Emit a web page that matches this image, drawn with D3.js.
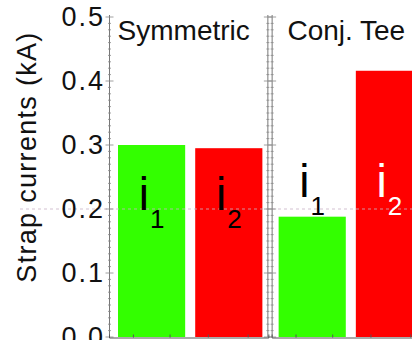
<!DOCTYPE html>
<html>
<head>
<meta charset="utf-8">
<script src="https://cdn.jsdelivr.net/npm/d3@7"></script>
<style>
  body { margin: 0; background: #fff; }
  text { font-family: "Liberation Sans", Arial, sans-serif; }
</style>
</head>
<body>
<div id="chart"></div>
<script>
// data
const panels = ["Symmetric", "Conj. Tee"];
const straps = ["i1", "i2"];
const symmetricValues = [0.300, 0.295];
const conjTeeValues = [0.188, 0.416];
const yTicks = [0.0, 0.1, 0.2, 0.3, 0.4, 0.5];
const labelAt = [0.198, 0.218]; // baseline of the i1/i2 labels in each panel
const labelColors = [["#000", "#000"], ["#000", "#fff"]];

const width = 412;
const height = 340;

const svg = d3.select("#chart")
  .append("svg")
  .attr("width", width)
  .attr("height", height);

//y scale shared by both panels
const y = d3.scaleLinear().domain([0, 0.5]).range([337, 17]);

//panels side by side, the second one runs off the right edge
const xPanel = d3.scaleBand().domain(panels).range([109, 431]).paddingInner(0.02);
const xStrap = d3.scaleBand().domain(straps).range([9, xPanel.bandwidth() - 6]).paddingInner(0.13);

const colors = d3.scaleOrdinal().domain(straps).range(["#33ff00", "#ff0000"]);

const rows = [];
panels.forEach((p, pi) => {
  const vals = pi === 0 ? symmetricValues : conjTeeValues;
  straps.forEach((s, si) => rows.push({ panel: p, pi: pi, strap: s, si: si, value: vals[si] }));
});

//bars
svg.selectAll("rect.bar")
  .data(rows)
  .enter()
  .append("rect")
  .attr("class", "bar")
  .attr("x", d => xPanel(d.panel) + xStrap(d.strap) - (d.pi === 1 ? 2 : 0))
  .attr("y", d => y(d.value))
  .attr("width", xStrap.bandwidth())
  .attr("height", d => y(0) - y(d.value))
  .attr("fill", d => colors(d.strap));

//faint dotted line at 0.2
svg.append("line")
  .attr("x1", 20)
  .attr("x2", width)
  .attr("y1", y(0.2))
  .attr("y2", y(0.2))
  .attr("stroke", "#c9b3c6")
  .attr("stroke-width", 2)
  .attr("stroke-dasharray", "3,3")
  .attr("opacity", 0.4);

//frame lines with small ticks on both sides
const minor = d3.range(0, 0.501, 0.01);
function frameLine(x) {
  const g = svg.append("g").attr("transform", `translate(${x},0)`);
  g.append("line")
    .attr("y1", y(0.5) - 2).attr("y2", y(0))
    .attr("stroke", "#777").attr("stroke-width", 1);
  g.selectAll("line.tk")
    .data(minor)
    .enter()
    .append("line")
    .attr("class", "tk")
    .attr("x1", (d, i) => i % 10 === 0 ? -4 : -1.5)
    .attr("x2", (d, i) => i % 10 === 0 ? 4 : 1.5)
    .attr("y1", d => y(d))
    .attr("y2", d => y(d))
    .attr("stroke", "#888")
    .attr("stroke-width", 0.8);
}
panels.forEach(p => {
  frameLine(xPanel(p) + 0.5);
  frameLine(xPanel(p) + xPanel.bandwidth() - 0.5);
});

//bottom axis
panels.forEach(p => {
  const xs = d3.scaleLinear().domain([0, 1]).range([xPanel(p), xPanel(p) + xPanel.bandwidth()]);
  const g = svg.append("g").attr("transform", `translate(0,${y(0) + 0.5})`);
  g.call(d3.axisTop(xs).tickValues([0.15, 0.38, 0.62, 0.87]).tickSize(3).tickFormat(""));
  g.select(".domain").attr("stroke", "#555");
  g.selectAll(".tick line").attr("stroke", "#555");
});

//y tick labels
svg.selectAll("text.ytick")
  .data(yTicks)
  .enter()
  .append("text")
  .attr("class", "ytick")
  .attr("x", 105)
  .attr("y", d => y(d) + 9)
  .attr("text-anchor", "end")
  .attr("font-size", "27px")
  .attr("letter-spacing", "2px")
  .attr("fill", "#111")
  .text(d => d3.format(".1f")(d));

//y axis title
svg.append("text")
  .attr("transform", `translate(36,${157}) rotate(-90)`)
  .attr("text-anchor", "middle")
  .attr("font-size", "27px")
  .attr("letter-spacing", "1.3px")
  .attr("fill", "#111")
  .text("Strap currents (kA)");

//panel titles
svg.selectAll("text.ptitle")
  .data(panels)
  .enter()
  .append("text")
  .attr("class", "ptitle")
  .attr("x", d => xPanel(d) + xPanel.bandwidth() / 2 - 5)
  .attr("y", 40)
  .attr("text-anchor", "middle")
  .attr("font-size", "28px")
  .attr("fill", "#111")
  .text(d => d);

//i1 / i2 labels
const lbl = svg.selectAll("text.ilabel")
  .data(rows)
  .enter()
  .append("text")
  .attr("class", "ilabel")
  .attr("x", d => xPanel(d.panel) + xStrap(d.strap) + xStrap.bandwidth() / 2 - (d.pi === 1 ? 2 : 0))
  .attr("y", d => y(labelAt[d.pi]))
  .attr("text-anchor", "middle")
  .attr("fill", d => labelColors[d.pi][d.si]);
lbl.append("tspan").attr("font-size", "46px").text("i");
lbl.append("tspan").attr("font-size", "26px").attr("dy", 18).attr("dx", 1).text(d => d.strap.slice(1));
</script>
</body>
</html>
